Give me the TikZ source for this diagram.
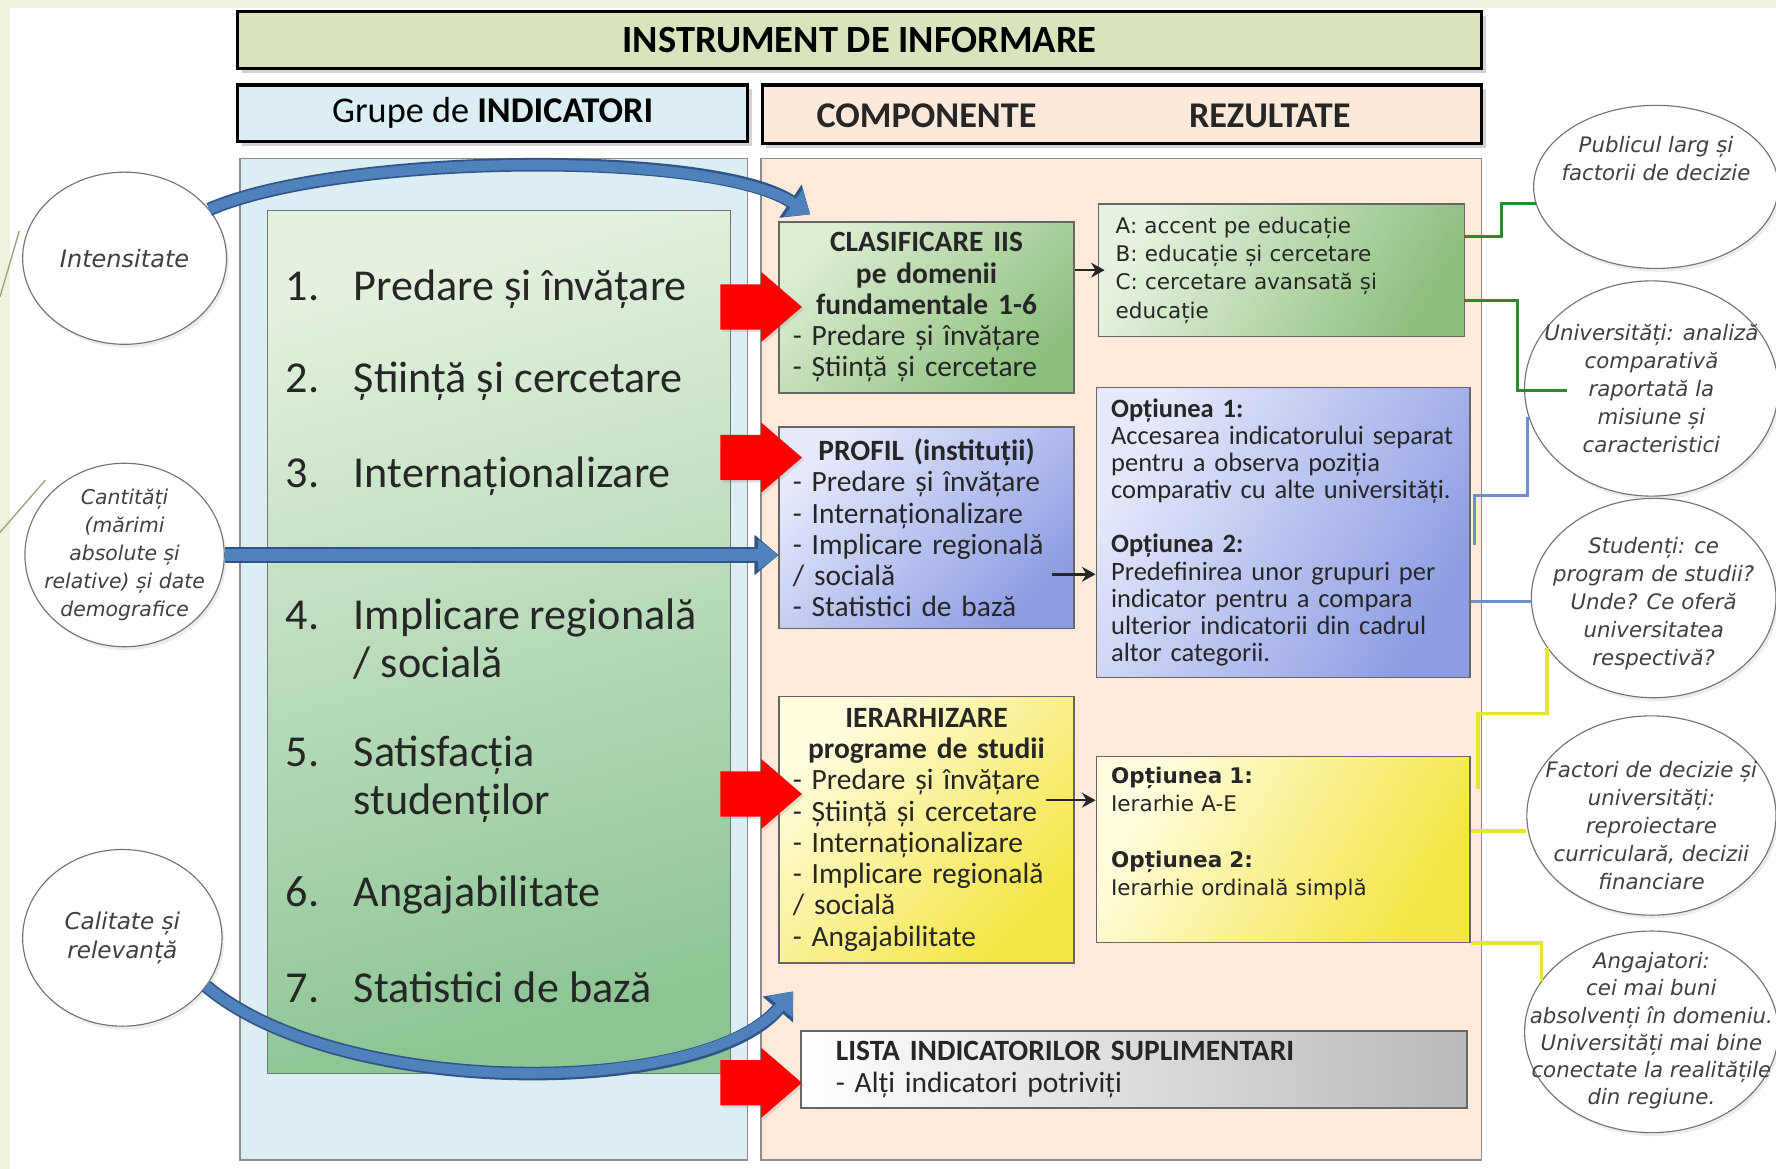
\documentclass[tikz,border=0pt]{standalone}
\usepackage{fontspec}
\setmainfont{Carlito}
\newfontfamily\dejavu{DejaVu Sans}[ItalicFont={DejaVu Sans Oblique},BoldFont={DejaVu Sans Bold}]
\usetikzlibrary{shapes.geometric,arrows.meta,shadows}

\definecolor{slidebg}{HTML}{EEF2DF}
\definecolor{slideln}{HTML}{9EA37E}
\definecolor{titlegreen}{HTML}{D7E4BD}
\definecolor{hdrblue}{HTML}{DBEEF4}
\definecolor{hdrpeach}{HTML}{FDE9D9}
\definecolor{panblue}{HTML}{DCEEF3}
\definecolor{panpeach}{HTML}{FDEADA}
\definecolor{grntop}{HTML}{E4F1DE}
\definecolor{grnbot}{HTML}{8CC594}
\definecolor{clslight}{HTML}{DCEDD2}
\definecolor{clsdark}{HTML}{8DBF7E}
\definecolor{bluelight}{HTML}{E6E9FB}
\definecolor{bluedark}{HTML}{8D9DE3}
\definecolor{yellight}{HTML}{FFFCE0}
\definecolor{yeldark}{HTML}{F4E542}
\definecolor{arrblue}{HTML}{4F81BD}
\definecolor{arrdark}{HTML}{2F5587}
\definecolor{lngreen}{HTML}{2B8A2B}
\definecolor{lnblue}{HTML}{6E90C8}
\definecolor{lnyellow}{HTML}{E6E62E}

\begin{document}
\begin{tikzpicture}[x=0.5pt, y=-0.5pt]

\tikzstyle{headbar} = [draw=black, line width=1.4pt, inner sep=0pt, drop shadow={opacity=0.35, shadow xshift=1.8pt, shadow yshift=-1.8pt}]
\tikzstyle{headtxt} = [inner sep=0pt, font=\fontsize{16}{19}\selectfont, text=black!85]
\tikzstyle{panel} = [draw=black!45, line width=0.6pt, inner sep=0pt]
\tikzstyle{item} = [anchor=west, inner sep=0pt, align=left, font=\fontsize{19.5}{21}\selectfont, text=black!85]
\tikzstyle{box} = [draw=black!60, line width=0.7pt, inner ysep=0pt, align=left, text=black!85]
\tikzstyle{ell} = [ellipse, draw=black!55, line width=0.5pt, fill=white, inner sep=0pt, drop shadow={opacity=0.15, shadow xshift=1pt, shadow yshift=-1.5pt}]
\tikzstyle{elltxt} = [inner sep=0pt, align=center, text=black!75, font=\dejavu\itshape\fontsize{9.4}{12.4}\selectfont]
\tikzstyle{redarr} = [fill=red, drop shadow={opacity=0.2, shadow xshift=1pt, shadow yshift=-1pt}]
\tikzstyle{blk} = [-{Stealth[length=6pt,width=6.5pt]}, line width=1.1pt, black!85]
\tikzstyle{curvearr} = [arrblue, line width=4.5pt, -{Triangle[length=9pt,width=14pt]}, preaction={draw=arrdark, line width=6pt, -{Triangle[length=10.5pt,width=17pt]}}]
\tikzstyle{gline} = [lngreen, line width=1.2pt]
\tikzstyle{bline} = [lnblue, line width=1.3pt]
\tikzstyle{yline} = [lnyellow, line width=1.7pt]

% slide background
\useasboundingbox (0,0) rectangle (1568,1032);
\fill[slidebg] (0,0) rectangle (1568,1032);
\fill[white] (9,7) rectangle (1568,1032);
\draw[slideln, line width=0.6pt] (0,262) -- (17,204);
\draw[slideln, line width=0.6pt] (0,470) -- (40,424);

% headers
\node[headbar, fill=titlegreen, minimum width=549pt, minimum height=25pt, font=\fontsize{17}{20}\selectfont\bfseries] (t) at (759,35.5) {INSTRUMENT DE INFORMARE};
\node[headbar, fill=hdrblue, minimum width=225pt, minimum height=25pt, font=\fontsize{16}{19}\selectfont] (g) at (435,100) {Grupe de \textbf{INDICATORI}};
\node[headbar, fill=hdrpeach, minimum width=317.5pt, minimum height=26pt] (k) at (990.5,101) {};
\node[headtxt, font=\fontsize{16}{19}\selectfont\bfseries] (kc) at (818,102) {COMPONENTE};
\node[headtxt, font=\fontsize{16}{19}\selectfont\bfseries] (kr) at (1121,102) {REZULTATE};

% panels
\node[panel, fill=panblue, minimum width=224pt, minimum height=442pt] (pl) at (436,582) {};
\node[panel, fill=panpeach, minimum width=318pt, minimum height=442pt] (pr) at (990,582) {};
\node[panel, draw=black!55, top color=grntop, bottom color=grnbot, shading angle=15, minimum width=204.5pt, minimum height=381pt] (gb) at (440.5,567) {};

% indicator groups
\node[item] (i1) at (252,255) {\makebox[30pt][l]{1.}Predare și învățare};
\node[item] (i2) at (252,337) {\makebox[30pt][l]{2.}Știință și cercetare};
\node[item] (i3) at (252,420) {\makebox[30pt][l]{3.}Internaționalizare};
\node[item] (i4) at (252,564) {\makebox[30pt][l]{4.}Implicare regională\\\hspace*{30pt}/ socială};
\node[item] (i5) at (252,688) {\makebox[30pt][l]{5.}Satisfacția\\\hspace*{30pt}studenților};
\node[item] (i6) at (252,790) {\makebox[30pt][l]{6.}Angajabilitate};
\node[item] (i7) at (252,872) {\makebox[30pt][l]{7.}Statistici de bază};

% components
\node[box, top color=clslight, bottom color=clsdark, shading angle=45, minimum width=130pt, minimum height=75.5pt, text width=118pt, inner xsep=6pt, font=\fontsize{13}{13.8}\selectfont] (clas) at (818,271.5)
  {{\centering\bfseries CLASIFICARE IIS\\pe domenii\\fundamentale 1-6\par}
   - Predare și învățare\\- Știință și cercetare};
\node[box, top color=bluelight, bottom color=bluedark, shading angle=45, minimum width=130pt, minimum height=89pt, text width=118pt, inner xsep=6pt, font=\fontsize{13}{13.8}\selectfont] (prof) at (818,466)
  {{\centering\bfseries PROFIL (instituții)\par}
   - Predare și învățare\\- Internaționalizare\\- Implicare regională\\/ socială\\- Statistici de bază};
\node[box, top color=yellight, bottom color=yeldark, shading angle=45, minimum width=130pt, minimum height=117.5pt, text width=118pt, inner xsep=6pt, font=\fontsize{13}{13.8}\selectfont] (ier) at (818,732.5)
  {{\centering\bfseries IERARHIZARE\\programe de studii\par}
   - Predare și învățare\\- Știință și cercetare\\- Internaționalizare\\- Implicare regională\\/ socială\\- Angajabilitate};
\node[box, left color=white, right color=gray!55, minimum width=294pt, minimum height=34pt, text width=263pt, inner xsep=15.5pt, font=\fontsize{13}{14}\selectfont] (lst) at (1001,944)
  {\textbf{LISTA INDICATORILOR SUPLIMENTARI}\\- Alți indicatori potriviți};

% red arrows
\foreach \ry in {271,404,701,956}
  \fill[redarr, shift={(672,\ry)}] (-36,-20) -- (0,-20) -- (0,-31) -- (36,0) -- (0,31) -- (0,20) -- (-36,20) -- cycle;

% results
\node[box, top color=clslight!70!white, bottom color=clsdark, shading angle=60, minimum width=161.5pt, minimum height=58.5pt, text width=146.5pt, inner xsep=7.5pt, font=\dejavu\fontsize{9.5}{12.5}\selectfont] (abc) at (1131.5,238.5)
  {A: accent pe educație\\B: educație și cercetare\\C: cercetare avansată și\\educație};
\node[box, top color=bluelight, bottom color=bluedark, shading angle=60, minimum width=165pt, minimum height=128pt, text width=152pt, inner xsep=6.5pt, font=\fontsize{11.7}{12}\selectfont] (opt1) at (1133,470)
  {\textbf{Opțiunea 1:}\\Accesarea indicatorului separat\\pentru a observa poziția\\comparativ cu alte universități.\\[12pt]
   \textbf{Opțiunea 2:}\\Predefinirea unor grupuri per\\indicator pentru a compara\\ulterior indicatorii din cadrul\\altor categorii.};
\node[box, top color=yellight, bottom color=yeldark, shading angle=60, minimum width=165pt, minimum height=82pt, text width=152pt, inner xsep=6.5pt, font=\dejavu\fontsize{9.5}{12.3}\selectfont] (opt2) at (1133,750)
  {\textbf{Opțiunea 1:}\\Ierarhie A-E\\[12.5pt]\textbf{Opțiunea 2:}\\Ierarhie ordinală simplă\\\strut};

\draw[blk] (clas.east |- abc.west) -- ([xshift=3pt]abc.west);
\draw[blk] ([xshift=-10pt,yshift=-20.5pt]prof.east) -- ([yshift=-20.5pt]prof.east -| opt1.west);
\draw[blk] ([xshift=-12.5pt,yshift=13pt]ier.east) -- ([yshift=13pt]ier.east -| opt2.west);

% dimensions (left)
\node[ell, minimum width=90pt, minimum height=76pt] (e1) at (110,228) {};
\node[elltxt, font=\dejavu\itshape\fontsize{10.6}{13}\selectfont] (e1t) at (e1) {Intensitate};
\node[ell, minimum width=88pt, minimum height=81pt] (e2) at (110,490) {};
\node[elltxt, font=\dejavu\itshape\fontsize{9}{12.4}\selectfont] (e2t) at (e2) {Cantități\\(mărimi\\absolute și\\relative) și date\\demografice};
\node[ell, minimum width=88pt, minimum height=78pt] (e3) at (108,828) {};
\node[elltxt, font=\dejavu\itshape\fontsize{10.2}{12.6}\selectfont] (e3t) at (e3) {Calitate și\\relevanță};

% users (right)
\node[ell, minimum width=108pt, minimum height=72pt] (p1) at (1462,165) {};
\node[elltxt] (p1t) at (1462,140) {Publicul larg și\\factorii de decizie};
\node[ell, minimum width=112pt, minimum height=95pt] (u) at (1458,343) {};
\node[elltxt] (ut) at (u) {Universități: analiză\\comparativă\\raportată la\\misiune și\\caracteristici};
\node[ell, minimum width=108pt, minimum height=88pt] (s) at (1460,528) {};
\node[elltxt] (st) at (1460,533) {Studenți: ce\\program de studii?\\Unde? Ce oferă\\universitatea\\respectivă?};
\node[ell, minimum width=110pt, minimum height=88pt] (f) at (1458,720) {};
\node[elltxt] (ft) at (1458,729) {Factori de decizie și\\universități:\\reproiectare\\curriculară, decizii\\financiare};
\node[ell, minimum width=112pt, minimum height=89pt] (a) at (1458,911) {};
\node[elltxt, font=\dejavu\itshape\fontsize{9.4}{12}\selectfont] (at) at (1458,910) {Angajatori:\\cei mai buni\\absolvenți în domeniu.\\Universități mai bine\\conectate la realitățile\\din regiune.};

% links to users
\draw[gline] ([yshift=15pt]abc.east) -| ([xshift=-15pt]p1.188) -- (p1.188);
\draw[gline] ([yshift=-13.25pt]abc.east) -| ([xshift=-3pt,yshift=-1pt]u.west) -- ([xshift=19pt,yshift=-1pt]u.west);
\draw[bline] ([xshift=1.5pt,yshift=-5.5pt]opt1.east) |- ([xshift=1.5pt,yshift=0.5pt]u.west |- u.south) -- ([xshift=1.5pt,yshift=35pt]u.west |- u.south);
\draw[bline] ([yshift=-30.5pt]opt1.east) -- ([yshift=-30.5pt]opt1.east -| s.west);
\draw[yline] (s.205) -- ++(0pt,-29pt) -| ([xshift=3pt,yshift=-14.5pt]opt2.north east);
\draw[yline] ([yshift=8pt]opt2.east) -- ([yshift=8pt]opt2.east -| f.west);
\draw[yline] (opt2.south east) -| (a.155);

% blue arrows
\draw[curvearr] (e1.30) .. controls (300,135) and (630,132) .. ([xshift=14pt,yshift=3pt]clas.north west);
\draw[curvearr, line width=5.5pt, -{Triangle[length=9pt,width=13pt]}, preaction={draw=arrdark, line width=7pt, -{Triangle[length=10.5pt,width=16pt]}}] (e2.east) -- (e2.east -| prof.west);
\draw[curvearr] (e3.-30) .. controls (300,970) and (620,970) .. ([xshift=-3pt,yshift=17pt]lst.north west);

\end{tikzpicture}
\end{document}
